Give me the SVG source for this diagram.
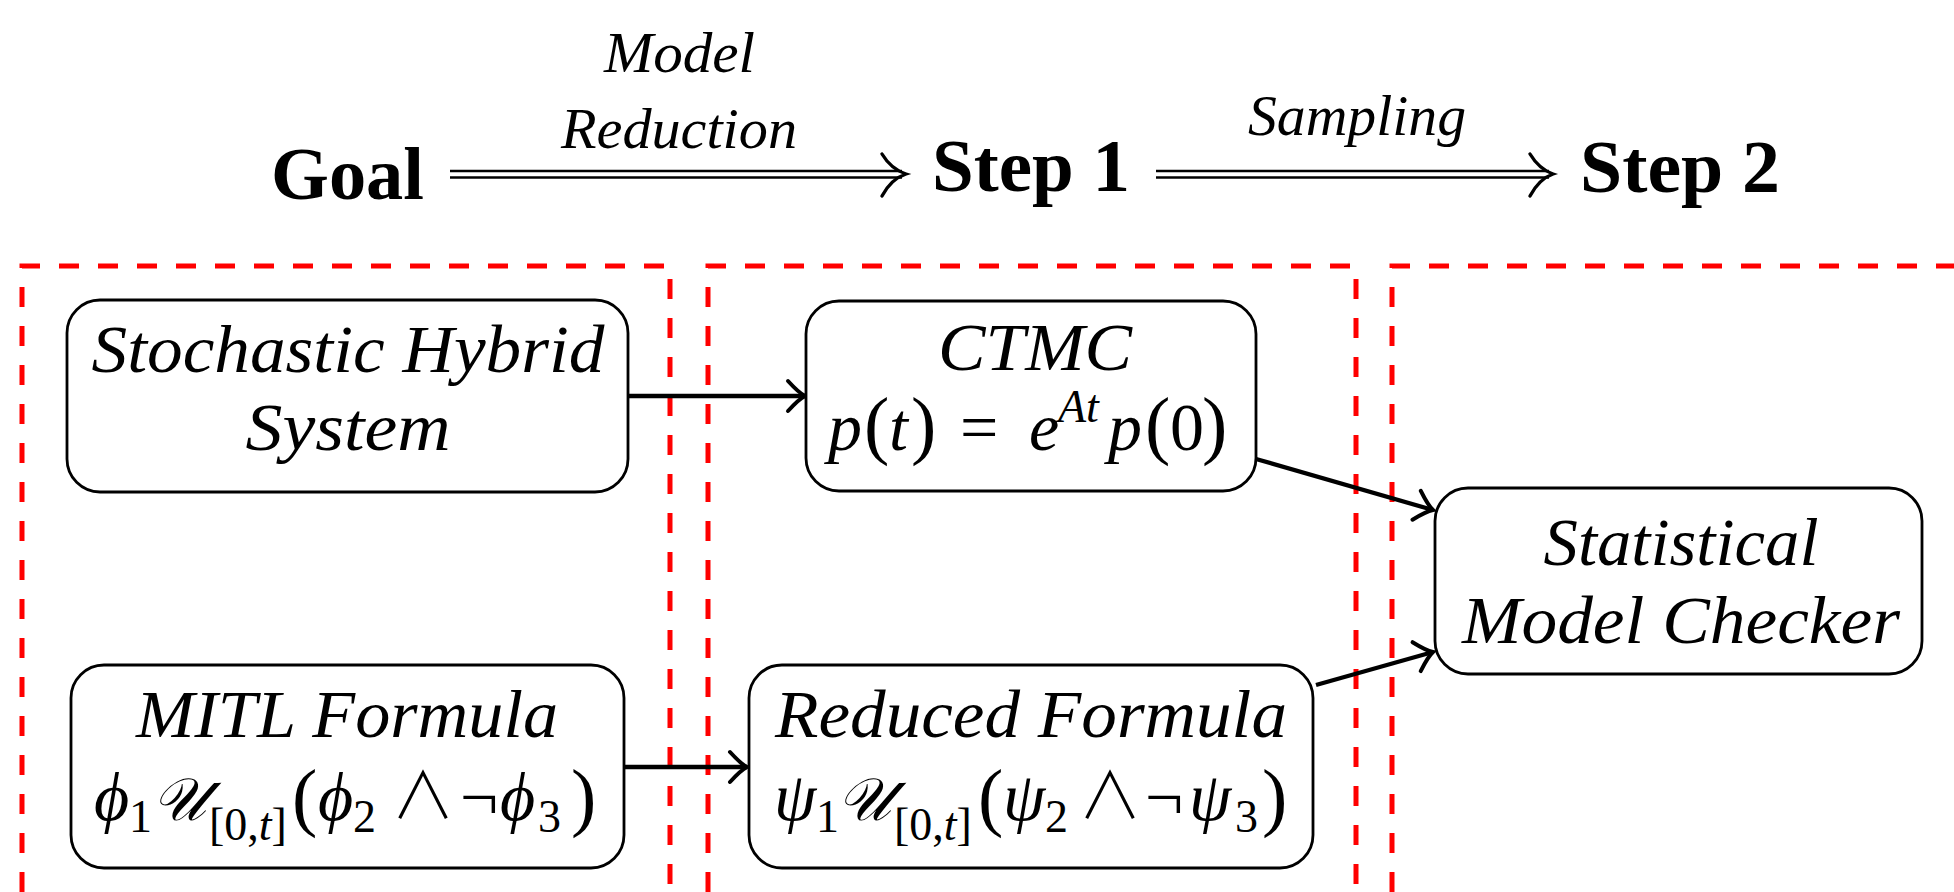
<svg xmlns="http://www.w3.org/2000/svg" width="1954" height="892" viewBox="0 0 1954 892">
<defs>
<style>
.bg{fill:#ffffff}
.hdr{font-family:"Liberation Serif","DejaVu Serif",serif;font-weight:bold;font-size:75px;fill:#000}
.lbl{font-family:"Liberation Serif","DejaVu Serif",serif;font-style:italic;font-size:58px;fill:#000}
.nt{font-family:"Liberation Serif","DejaVu Serif",serif;font-style:italic;font-size:68px;fill:#000}
.m{font-family:"Liberation Serif","DejaVu Serif",serif;font-size:68px;fill:#000}
.i{font-style:italic}
.s{font-size:46px}
.p{font-size:76px}
.u{font-size:60px}
.op{font-family:"Noto Sans CJK JP","DejaVu Serif",serif;font-weight:300;font-size:64px}
.box{fill:#fff;stroke:#000;stroke-width:2.8}
.zone{fill:none;stroke:#ff0000;stroke-width:5;stroke-dasharray:20 19}
.con{fill:none;stroke:#000;stroke-width:4.3}
.dbl{fill:none;stroke:#000;stroke-width:2.6}
.dhead{fill:none;stroke:#000;stroke-width:3.4;stroke-linecap:round}
</style>
<marker id="arr" markerUnits="userSpaceOnUse" viewBox="-20 -18 24 36" refX="0" refY="0" markerWidth="24" markerHeight="36" orient="auto" overflow="visible">
<path d="M-17,-15 Q-6,-3 0,0 Q-6,3 -17,15" fill="none" stroke="#000" stroke-width="4" stroke-linecap="round"/>
</marker>
</defs>
<rect class="bg" x="0" y="0" width="1954" height="892"/>

<g id="zones">
<path class="zone" d="M22,892 V266 H670 V892"/>
<path class="zone" d="M708,892 V266 H1356 V892"/>
<path class="zone" d="M1392,892 V266 H1954"/>
</g>

<g id="header">
<text class="hdr" x="271" y="199" textLength="153" lengthAdjust="spacingAndGlyphs">Goal</text>
<text class="hdr" x="932" y="191" textLength="198" lengthAdjust="spacingAndGlyphs">Step 1</text>
<text class="hdr" x="1580" y="192" textLength="200" lengthAdjust="spacingAndGlyphs">Step 2</text>
<text class="lbl" x="604" y="72" textLength="151" lengthAdjust="spacingAndGlyphs">Model</text>
<text class="lbl" x="561" y="148" textLength="236" lengthAdjust="spacingAndGlyphs">Reduction</text>
<text class="lbl" x="1248" y="135" textLength="218" lengthAdjust="spacingAndGlyphs">Sampling</text>
<g id="arrow-reduction">
<line class="dbl" x1="450" y1="171" x2="902" y2="171"/>
<line class="dbl" x1="450" y1="177.5" x2="902" y2="177.5"/>
<path class="dhead" d="M882,154 Q891,169 906,174 Q891,179 882,196"/>
</g>
<g id="arrow-sampling">
<line class="dbl" x1="1156" y1="171" x2="1549" y2="171"/>
<line class="dbl" x1="1156" y1="177.5" x2="1549" y2="177.5"/>
<path class="dhead" d="M1530,154 Q1539,169 1553,174 Q1539,179 1530,196"/>
</g>
</g>

<g id="connectors">
<line class="con" x1="628" y1="396" x2="805" y2="396" marker-end="url(#arr)"/>
<line class="con" x1="624" y1="767" x2="747" y2="767" marker-end="url(#arr)"/>
<line class="con" x1="1256" y1="459" x2="1433" y2="510" marker-end="url(#arr)"/>
<line class="con" x1="1316" y1="685" x2="1433" y2="652" marker-end="url(#arr)"/>
</g>

<g id="node-shs">
<rect class="box" x="67" y="300" width="561" height="192" rx="33"/>
<text class="nt" x="348" y="372" text-anchor="middle" textLength="513" lengthAdjust="spacingAndGlyphs">Stochastic Hybrid</text>
<text class="nt" x="348" y="450" text-anchor="middle" textLength="205" lengthAdjust="spacingAndGlyphs">System</text>
</g>

<g id="node-ctmc">
<rect class="box" x="806" y="301" width="450" height="190" rx="33"/>
<text class="nt" x="1035" y="370" text-anchor="middle" textLength="194" lengthAdjust="spacingAndGlyphs">CTMC</text>
<text class="m" y="450"><tspan class="i" x="828">p</tspan><tspan class="p" x="864">(</tspan><tspan class="i" x="889">t</tspan><tspan class="p" x="911">)</tspan><tspan x="960">=</tspan><tspan class="i" x="1029">e</tspan><tspan class="i s" x="1058" y="422">At</tspan><tspan class="i" x="1108" y="450">p</tspan><tspan class="p" x="1145">(</tspan><tspan x="1170">0</tspan><tspan class="p" x="1202">)</tspan></text>
</g>

<g id="node-smc">
<rect class="box" x="1435" y="488" width="487" height="186" rx="33"/>
<text class="nt" x="1681" y="565" text-anchor="middle" textLength="275" lengthAdjust="spacingAndGlyphs">Statistical</text>
<text class="nt" x="1681" y="643" text-anchor="middle" textLength="438" lengthAdjust="spacingAndGlyphs">Model Checker</text>
</g>

<g id="node-mitl">
<rect class="box" x="71" y="665" width="553" height="203" rx="33"/>
<text class="nt" x="347" y="737" text-anchor="middle" textLength="422" lengthAdjust="spacingAndGlyphs">MITL Formula</text>
<text class="m" y="820"><tspan class="i" x="94">ϕ</tspan><tspan class="s" x="129" y="832">1</tspan><tspan class="i u" x="152" y="820">𝒰</tspan><tspan class="s" x="209" y="840">[0,<tspan class="i">t</tspan>]</tspan><tspan class="p" x="292" y="822">(</tspan><tspan class="i" x="318" y="820">ϕ</tspan><tspan class="s" x="353" y="832">2</tspan><tspan class="op" x="391" y="818">∧</tspan><tspan x="460" y="820">¬</tspan><tspan class="i" x="500">ϕ</tspan><tspan class="s" x="538" y="832">3</tspan><tspan class="p" x="571" y="822">)</tspan></text>
</g>

<g id="node-reduced">
<rect class="box" x="749" y="665" width="564" height="203" rx="33"/>
<text class="nt" x="1031" y="737" text-anchor="middle" textLength="512" lengthAdjust="spacingAndGlyphs">Reduced Formula</text>
<text class="m" y="820"><tspan class="i" x="774">ψ</tspan><tspan class="s" x="816" y="832">1</tspan><tspan class="i u" x="837" y="820">𝒰</tspan><tspan class="s" x="894" y="840">[0,<tspan class="i">t</tspan>]</tspan><tspan class="p" x="978" y="822">(</tspan><tspan class="i" x="1003" y="820">ψ</tspan><tspan class="s" x="1045" y="832">2</tspan><tspan class="op" x="1078" y="818">∧</tspan><tspan x="1145" y="820">¬</tspan><tspan class="i" x="1189">ψ</tspan><tspan class="s" x="1235" y="832">3</tspan><tspan class="p" x="1262" y="822">)</tspan></text>
</g>
</svg>
